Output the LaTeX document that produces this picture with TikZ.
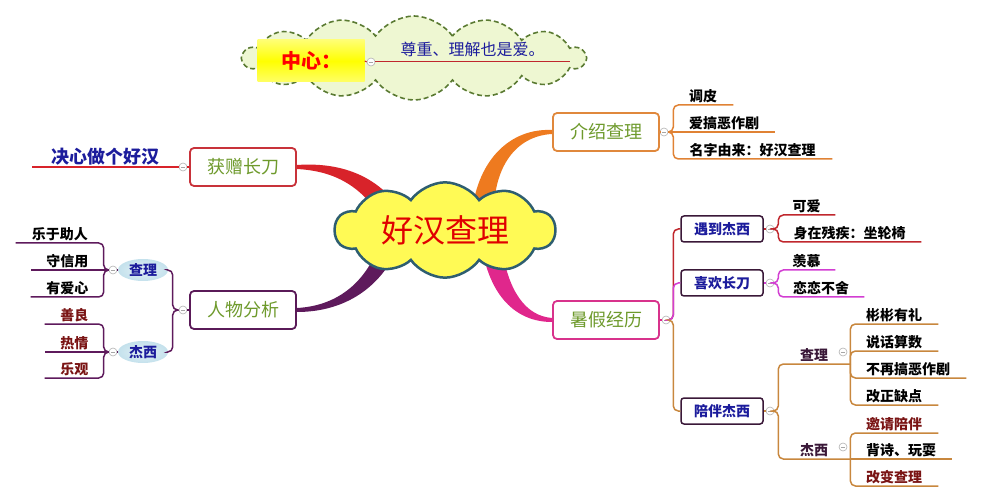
\documentclass[tikz,border=0pt]{standalone}
\usepackage{fontspec}
\newfontfamily\cjk{Noto Sans CJK SC}
\usepackage{tikz}
\usetikzlibrary{shapes.symbols,shapes.geometric,backgrounds}

\definecolor{boxgreen}{HTML}{6E9A2C}
\definecolor{cred}{HTML}{D8232A}
\definecolor{corange}{HTML}{EE7A1F}
\definecolor{cpurple}{HTML}{5E1A5C}
\definecolor{cmagenta}{HTML}{E0278C}
\definecolor{redbox}{HTML}{C8323A}
\definecolor{orangebox}{HTML}{E0883C}
\definecolor{purplebox}{HTML}{5A1A58}
\definecolor{magentabox}{HTML}{D8338C}
\definecolor{navy}{HTML}{1C1C9C}
\definecolor{plum}{HTML}{3A1838}
\definecolor{maroon}{HTML}{7A1414}
\definecolor{ltan}{HTML}{C8873E}
\definecolor{lred}{HTML}{C0272D}
\definecolor{lmag}{HTML}{D23ED2}
\definecolor{lorange}{HTML}{E08234}
\definecolor{cloudteal}{HTML}{2E5E70}
\definecolor{cloudyellow}{HTML}{FFFA55}
\definecolor{mintfill}{HTML}{EEF7D2}
\definecolor{mintline}{HTML}{5A7A32}
\definecolor{ballblue}{HTML}{C4E1EC}

\begin{document}
\begin{tikzpicture}[x=1pt,y=-1pt,
  box/.style={draw, rounded corners=4pt, line width=1.8pt, fill=white,
    minimum width=106, minimum height=38, text=boxgreen,
    font=\cjk\fontsize{18}{18}\selectfont},
  sbox/.style={draw=plum, rounded corners=3pt, line width=1.5pt, fill=white,
    minimum width=82, minimum height=26, text=navy,
    font=\cjk\bfseries\fontsize{14}{14}\selectfont},
  ball/.style={ellipse, minimum width=50, minimum height=22, inner sep=0pt,
    shading=radial, inner color=ballblue!45, outer color=ballblue, text=navy,
    font=\cjk\bfseries\fontsize{14}{14}\selectfont},
  leaf/.style={inner sep=0pt, inner ysep=2pt, text=black,
    font=\cjk\bfseries\fontsize{14}{14}\selectfont},
  knob/.style={circle, draw=gray!60, fill=white, line width=0.6pt, inner sep=0pt,
    minimum size=8pt, path picture={\draw[gray!70, line width=0.6pt]
      ([xshift=-2.2pt]path picture bounding box.center) --
      ([xshift=2.2pt]path picture bounding box.center);}},
  twig/.style={line width=1.5pt, rounded corners=5pt}]

  \useasboundingbox (0,0) rectangle (984,502);

  % Centre
  \node[cloud, cloud puffs=10, cloud puff arc=110, aspect=2.8, minimum width=220,
    minimum height=78, draw=cloudteal, line width=2.5pt, fill=cloudyellow,
    text=red!88!black, font=\cjk\fontsize{32}{32}\selectfont] (center) at (445,230) {好汉查理};

  % Top note
  \node[cloud, cloud puffs=14, cloud puff arc=110, aspect=4, minimum width=342,
    minimum height=84, draw=mintline, dash pattern=on 5pt off 3pt, line width=1.6pt,
    fill=mintfill] (note) at (414,58) {};
  \node[top color=yellow!55!white, bottom color=yellow!60!white, middle color=yellow,
    minimum width=107, minimum height=42, text=red,
    font=\cjk\bfseries\fontsize{20}{20}\selectfont] (heart) at (311,61) {中心：};
  \node[knob] (k0) at (371,62) {};
  \node[leaf, anchor=south west, minimum width=195, inner ysep=5pt, text=navy,
    font=\cjk\fontsize{16}{16}\selectfont] (motto) at (375,62) {尊重、理解也是爱。};
  \draw[lred, line width=1pt] (heart.east) -- (k0.west);
  \draw[lred, line width=1pt] (k0.east) -- (motto.south east);

  % Main topics
  \node[box, draw=redbox] (gift) at (243,167) {获赠长刀};
  \node[box, draw=orangebox] (intro) at (606,132) {介绍查理};
  \node[box, draw=purplebox] (analysis) at (243,310) {人物分析};
  \node[box, draw=magentabox] (summer) at (606,320) {暑假经历};

  % Branches
  \begin{scope}[on background layer]
    \fill[cred] ([yshift=2pt]gift.east) .. controls (340,162) and (378,175) .. (402,212)
      -- (384,222) .. controls (362,186) and (335,171) .. ([yshift=-2pt]gift.east) -- cycle;
    \fill[corange] ([yshift=2pt]intro.west) .. controls (510,128) and (478,160) .. (472,212)
      -- (494,212) .. controls (494,168) and (515,136) .. ([yshift=-2pt]intro.west) -- cycle;
    \fill[cpurple] ([yshift=-2pt]analysis.east) .. controls (340,312) and (378,292) .. (398,248)
      -- (380,243) .. controls (365,285) and (335,306) .. ([yshift=2pt]analysis.east) -- cycle;
    \fill[cmagenta] ([yshift=-2pt]summer.west) .. controls (515,322) and (490,295) .. (482,248)
      -- (502,248) .. controls (508,290) and (525,316) .. ([yshift=2pt]summer.west) -- cycle;
  \end{scope}

  % 获赠长刀
  \node[knob] (k1) at (183,167) {};
  \node[leaf, anchor=south east, minimum width=147, text=navy,
    font=\cjk\bfseries\fontsize{18}{18}\selectfont] (brave) at (179,167) {决心做个好汉};
  \draw[cred, line width=1.8pt] (gift.west) -- (k1.east);
  \draw[cred, line width=1.8pt] (k1.west) -- (brave.south west);

  % 介绍查理
  \node[knob] (k2) at (664,132) {};
  \node[leaf, anchor=south west, minimum width=60] (i1) at (673,105) {调皮};
  \node[leaf, anchor=south west, minimum width=102] (i2) at (673,132) {爱搞恶作剧};
  \node[leaf, anchor=south west, minimum width=159] (i3) at (673,159) {名字由来：好汉查理};
  \draw[lorange, line width=1.5pt] (intro.east) -- (k2.west);
  \draw[lorange, twig] (k2.east) -- ++(5,0) |- (i1.south east);
  \draw[lorange, twig] (k2.east) -- (i2.south east);
  \draw[lorange, twig] (k2.east) -- ++(5,0) |- (i3.south east);

  % 人物分析
  \node[knob] (k3) at (183,310) {};
  \node[ball] (cl) at (143,270) {查理};
  \node[ball] (js) at (143,352) {杰西};
  \draw[cpurple, line width=1.5pt] (analysis.west) -- (k3.east);
  \draw[cpurple, twig] (k3.west) -- ++(-6,0) |- (cl.east);
  \draw[cpurple, twig] (k3.west) -- ++(-6,0) |- (js.east);

  \node[knob] (k4) at (113,270) {};
  \node[leaf, anchor=south east, minimum width=88] (c1) at (104,243) {乐于助人};
  \node[leaf, anchor=south east, minimum width=73] (c2) at (104,270) {守信用};
  \node[leaf, anchor=south east, minimum width=73] (c3) at (104,297) {有爱心};
  \draw[cpurple, twig] (cl.west) -- (k4.east);
  \draw[cpurple, twig] (k4.west) -- ++(-5,0) |- (c1.south west);
  \draw[cpurple, twig] (k4.west) -- (c2.south west);
  \draw[cpurple, twig] (k4.west) -- ++(-5,0) |- (c3.south west);

  \node[knob] (k5) at (113,352) {};
  \node[leaf, anchor=south east, minimum width=59, text=maroon] (j1) at (104,324) {善良};
  \node[leaf, anchor=south east, minimum width=59, text=maroon] (j2) at (104,352) {热情};
  \node[leaf, anchor=south east, minimum width=59, text=maroon] (j3) at (104,378) {乐观};
  \draw[cpurple, twig] (js.west) -- (k5.east);
  \draw[cpurple, twig] (k5.west) -- ++(-5,0) |- (j1.south west);
  \draw[cpurple, twig] (k5.west) -- (j2.south west);
  \draw[cpurple, twig] (k5.west) -- ++(-5,0) |- (j3.south west);

  % 暑假经历
  \node[knob] (k6) at (666,320) {};
  \node[sbox] (meet) at (722,229) {遇到杰西};
  \node[sbox] (knife) at (722,283) {喜欢长刀};
  \node[sbox] (company) at (722,411) {陪伴杰西};
  \draw[cmagenta, line width=1.5pt] (summer.east) -- (k6.west);
  \draw[lred, twig] (k6.east) -- ++(3,0) |- (meet.west);
  \draw[lmag, twig] (k6.east) -- ++(3,0) |- (knife.west);
  \draw[ltan, twig] (k6.east) -- ++(3,0) |- (company.west);

  % 遇到杰西
  \node[knob] (k7) at (770,229) {};
  \node[leaf, anchor=south west, minimum width=57] (m1) at (778,215) {可爱};
  \node[leaf, anchor=south west, minimum width=143] (m2) at (778,242) {身在残疾：坐轮椅};
  \draw[lred, twig] (meet.east) -- (k7.west);
  \draw[lred, twig] (k7.east) -- ++(4,0) |- (m1.south east);
  \draw[lred, twig] (k7.east) -- ++(4,0) |- (m2.south east);

  % 喜欢长刀
  \node[knob] (k8) at (770,283) {};
  \node[leaf, anchor=south west, minimum width=57] (n1) at (778,270) {羡慕};
  \node[leaf, anchor=south west, minimum width=86] (n2) at (778,297) {恋恋不舍};
  \draw[lmag, twig] (knife.east) -- (k8.west);
  \draw[lmag, twig] (k8.east) -- ++(4,0) |- (n1.south east);
  \draw[lmag, twig] (k8.east) -- ++(4,0) |- (n2.south east);

  % 陪伴杰西
  \node[knob] (k9) at (770,411) {};
  \node[leaf, anchor=south west, minimum width=72, text=plum] (p1) at (778,364) {查理};
  \node[leaf, anchor=south west, minimum width=72, text=plum] (p2) at (778,459) {杰西};
  \node[knob] (k10) at (843,352) {};
  \node[knob] (k11) at (843,447) {};
  \draw[ltan, twig] (company.east) -- (k9.west);
  \draw[ltan, twig] (k9.east) -- ++(4,0) |- (p1.south east);
  \draw[ltan, twig] (k9.east) -- ++(4,0) |- (p2.south east);

  \node[leaf, anchor=south west, minimum width=88] (q1) at (850,324) {彬彬有礼};
  \node[leaf, anchor=south west, minimum width=88] (q2) at (850,351) {说话算数};
  \node[leaf, anchor=south west, minimum width=116] (q3) at (850,378) {不再搞恶作剧};
  \node[leaf, anchor=south west, minimum width=88] (q4) at (850,405) {改正缺点};
  \draw[ltan, twig] (p1.south east) |- (q1.south east);
  \draw[ltan, twig] (p1.south east) |- (q2.south east);
  \draw[ltan, twig] (p1.south east) |- (q3.south east);
  \draw[ltan, twig] (p1.south east) |- (q4.south east);

  \node[leaf, anchor=south west, minimum width=88, text=maroon] (r1) at (850,433) {邀请陪伴};
  \node[leaf, anchor=south west, minimum width=102] (r2) at (850,459) {背诗、玩耍};
  \node[leaf, anchor=south west, minimum width=88, text=maroon] (r3) at (850,486) {改变查理};
  \draw[ltan, twig] (p2.south east) |- (r1.south east);
  \draw[ltan, twig] (p2.south east) -- (r2.south east);
  \draw[ltan, twig] (p2.south east) |- (r3.south east);

\end{tikzpicture}
\end{document}
